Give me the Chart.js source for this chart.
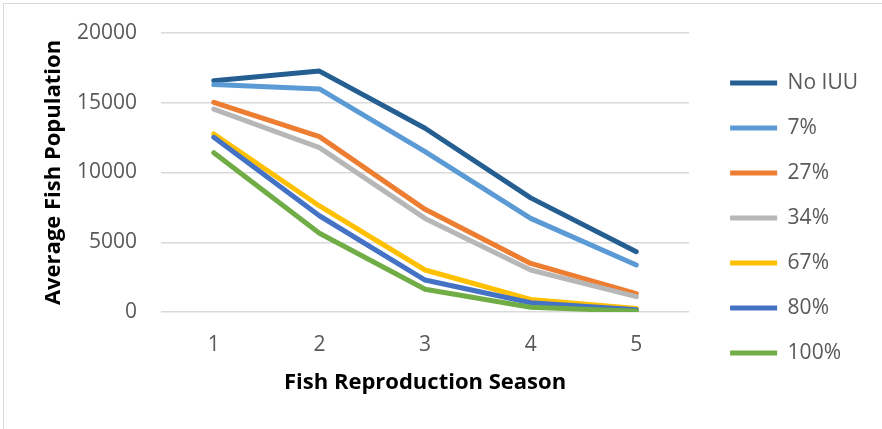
<!DOCTYPE html>
<html>
<head>
<meta charset="utf-8">
<script src="https://cdn.jsdelivr.net/npm/chart.js@4.4.1/dist/chart.umd.min.js"></script>
<style>
  html, body { margin: 0; padding: 0; background: #fff; }
  #frame { position: absolute; left: 3px; top: 3px; width: 890px; height: 440px;
           border-left: 1.5px solid #d9d9d9; border-top: 1.5px solid #d9d9d9; }
  #wrap { position: absolute; left: 0; top: 0; width: 882px; height: 429px; }
</style>
</head>
<body>
<div id="frame"></div>
<div id="wrap"><canvas id="fish"></canvas></div>
<script>
// seasons on the x axis
const seasons = ['1', '2', '3', '4', '5'];

// average fish population per IUU scenario
const noIUU = [16580, 17270, 13170, 8180, 4320];
const iuu7 = [16300, 15990, 11490, 6710, 3370];
const iuu27 = [15030, 12570, 7360, 3480, 1320];
const iuu34 = [14550, 11780, 6710, 3010, 1100];
const iuu67 = [12760, 7600, 3010, 900, 250];
const iuu80 = [12520, 6900, 2290, 660, 170];
const iuu100 = [11420, 5640, 1630, 340, 60];

const seriesNames = ['No IUU', '7%', '27%', '34%', '67%', '80%', '100%'];
const seriesData = [noIUU, iuu7, iuu27, iuu34, iuu67, iuu80, iuu100];
const seriesColors = ['#255e91', '#5b9bd5', '#ed7d31', '#b7b7b7', '#ffc000', '#4472c4', '#70ad47'];

const yTicks = [0, 5000, 10000, 15000, 20000];

const fontFam = '"Open Sans", "Liberation Sans", sans-serif';

let datasets = [];
for (let i = 0; i < seriesNames.length; i++) {
    datasets.push({
        label: seriesNames[i],
        data: seriesData[i],
        borderColor: seriesColors[i],
        backgroundColor: seriesColors[i],
        borderWidth: 5,
        borderCapStyle: 'round',
        borderJoinStyle: 'round',
        pointRadius: 0,
        tension: 0,
        fill: false,
        order: seriesNames.length - i   // later series drawn on top, like Excel
    });
}

const ctx = document.getElementById('fish');
const chart = new Chart(ctx, {
    type: 'line',
    data: {
        labels: seasons,
        datasets: datasets
    },
    options: {
        responsive: true,
        maintainAspectRatio: false,
        animation: false,
        layout: {
            padding: {top: 33, left: 41, right: 14, bottom: 26}
        },
        plugins: {
            tooltip: {enabled: false},
            legend: {
                position: 'right',
                align: 'center',
                maxWidth: 220,
                labels: {
                    usePointStyle: true,
                    pointStyle: 'line',
                    pointStyleWidth: 47,
                    padding: 24,
                    color: '#595959',
                    font: {family: fontFam, size: 21},
                    sort: (a, b) => a.datasetIndex - b.datasetIndex
                }
            }
        },
        scales: {
            x: {
                offset: true,
                grid: {display: false},
                border: {display: false},
                afterFit: (axis) => {
                    axis.height = 91;
                },
                ticks: {
                    padding: 12,
                    color: '#595959',
                    font: {family: fontFam, size: 21}
                },
                title: {
                    display: true,
                    text: 'Fish Reproduction Season',
                    color: '#000',
                    font: {family: fontFam, size: 22, weight: 'bold'},
                    padding: {top: 10, bottom: 7}
                }
            },
            y: {
                min: 0,
                max: 20000,
                afterBuildTicks: (axis) => {
                    axis.ticks = yTicks.map(v => ({value: v}));
                },
                afterFit: (axis) => {
                    axis.width = 161 - 41;
                    axis.paddingTop = 0;   // let layout padding set the plot top
                },
                grid: {color: '#d9d9d9', lineWidth: 1.5, drawTicks: false},
                border: {display: false},
                ticks: {
                    padding: 24,
                    color: '#595959',
                    font: {family: fontFam, size: 21},
                    callback: (v) => String(v)
                },
                title: {
                    display: true,
                    text: 'Average Fish Population',
                    color: '#000',
                    font: {family: fontFam, size: 22, weight: 'bold'},
                    padding: {top: 0, bottom: 0}
                }
            },
            // spacer between plot and legend
            gap: {
                position: 'right',
                display: true,
                grid: {display: false},
                border: {display: false},
                ticks: {display: false},
                afterFit: (axis) => {
                    axis.width = 17;
                }
            }
        }
    }
});
</script>
</body>
</html>
